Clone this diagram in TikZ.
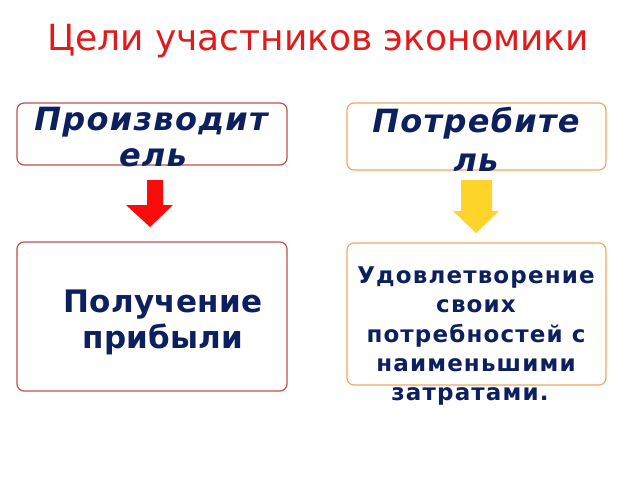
\documentclass[tikz,border=0pt]{standalone}
\usepackage{fontspec}
\setmainfont{DejaVu Sans}
\newfontfamily\ttl{DejaVu Sans}
\newfontfamily\hdr[LetterSpace=4]{DejaVu Sans}
\newfontfamily\bigfnt[LetterSpace=1]{DejaVu Sans}
\newfontfamily\bdy[LetterSpace=5]{DejaVu Sans}
\definecolor{ttlred}{HTML}{E01B1B}
\definecolor{navy}{HTML}{0C1F5E}
\definecolor{brd1}{HTML}{C0504D}
\definecolor{brd2}{HTML}{F0A868}
\definecolor{arrred}{HTML}{FF0A0A}
\definecolor{arryel}{HTML}{FFD42A}
\tikzset{
  box/.style={draw, line width=1.2pt, rounded corners=7pt},
  hdrtext/.style={text=navy, align=center, inner sep=0pt, font=\hdr\bfseries\itshape\fontsize{32}{36}\selectfont},
  bigtext/.style={text=navy, align=center, inner sep=0pt, font=\bigfnt\bfseries\fontsize{31}{36}\selectfont},
  smalltext/.style={text=navy, align=center, inner sep=0pt, font=\bdy\bfseries\fontsize{23}{29.5}\selectfont},
}
\begin{document}
\begin{tikzpicture}[x=1pt,y=-1pt]
\useasboundingbox (0,0) rectangle (640,480);
\fill[white] (0,0) rectangle (640,480);
% title
\node[text=ttlred, inner sep=0pt, anchor=base, font=\ttl\fontsize{36}{40}\selectfont] (title) at (318,50) {Цели участников экономики};
% top boxes
\draw[box, brd1] (17,103) rectangle (287,165);
\draw[box, brd2] (347,103) rectangle (606,170);
\node[hdrtext, anchor=base] (t1a) at (151,130) {Производит};
\node[hdrtext, anchor=base] (t1b) at (153,166) {ель};
\node[hdrtext, anchor=base] (t2a) at (476,132) {Потребите};
\node[hdrtext, anchor=base] (t2b) at (476,171) {ль};
% arrows
\fill[arrred] (147,180) -- (163,180) -- (163,205) -- (173,205) -- (150,227) -- (126,205) -- (147,205) -- cycle;
\fill[arryel] (477,180) -- (492,180) -- (492,211) -- (499,211) -- (476,233) -- (453,211) -- (461,211) -- (461,180) -- cycle;
% bottom boxes
\draw[box, brd1] (17,242) rectangle (287,391);
\draw[box, brd2] (347,243) rectangle (606,385);
\node[bigtext, anchor=base] (t3a) at (163,312) {Получение};
\node[bigtext, anchor=base] (t3b) at (163,348) {прибыли};
\node[smalltext, anchor=base] (t4a) at (476,283) {Удовлетворение};
\node[smalltext, anchor=base] (t4b) at (476,312) {своих};
\node[smalltext, anchor=base] (t4c) at (476,342) {потребностей с};
\node[smalltext, anchor=base] (t4d) at (476,371) {наименьшими};
\node[smalltext, anchor=base] (t4e) at (470,400) {затратами.};
\end{tikzpicture}
\end{document}
